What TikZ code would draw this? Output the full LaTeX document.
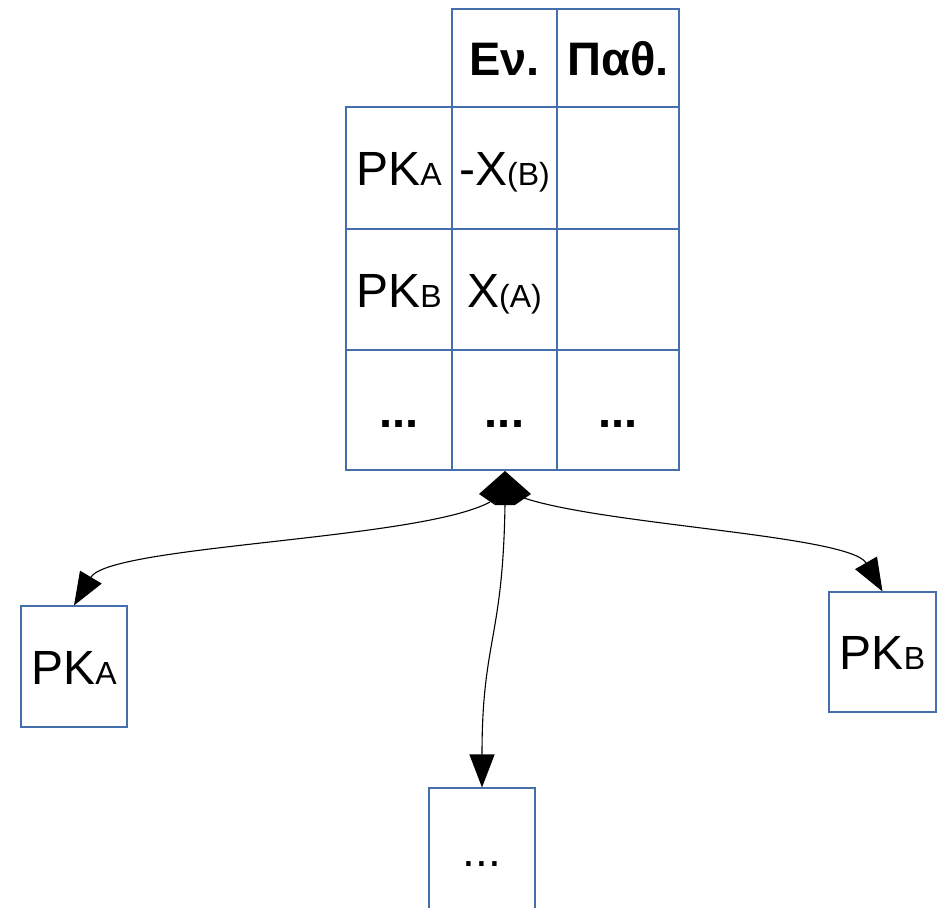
\documentclass[tikz,border=0pt]{standalone}
\usepackage{fontspec}
\setmainfont{Liberation Sans}
\usetikzlibrary{arrows.meta}
\definecolor{gridblue}{RGB}{68,110,172}
\newcommand\smallpart[1]{{\fontsize{32}{32}\selectfont #1}}
\tikzset{
  cellbox/.style 2 args={draw=gridblue, line width=1.1pt, inner sep=0pt,
    minimum width=#1, minimum height=#2, text height=35pt, text depth=0pt,
    font=\fontsize{48}{52}\selectfont},
  boldcell/.style={font=\fontsize{47}{50}\selectfont\bfseries},
  link/.style={line width=1.1pt, -{Triangle[length=33pt,width=25pt]}},
}
\begin{document}
\begin{tikzpicture}[x=1pt, y=-1pt]
\useasboundingbox (0,0) rectangle (943,908);
\clip (0,0) rectangle (943,908);

% header row
\node[cellbox={105pt}{98pt}, boldcell] (hEn) at (504.5,58) {Εν.};
\node[cellbox={122pt}{98pt}, boldcell] (hPa) at (618,58) {Παθ.};
% first row
\node[cellbox={106pt}{122pt}] (r1a) at (399,168) {PK\smallpart{A}};
\node[cellbox={105pt}{122pt}] (r1b) at (504.5,168) {-X\smallpart{(B)}};
\node[cellbox={122pt}{122pt}] (r1c) at (618,168) {};
% second row
\node[cellbox={106pt}{121pt}] (r2a) at (399,289.5) {PK\smallpart{B}};
\node[cellbox={105pt}{121pt}] (r2b) at (504.5,289.5) {X\smallpart{(A)}};
\node[cellbox={122pt}{121pt}] (r2c) at (618,289.5) {};
% third row
\node[cellbox={106pt}{120pt}, boldcell] (r3a) at (399,410) {...};
\node[cellbox={105pt}{120pt}, boldcell] (r3b) at (504.5,410) {...};
\node[cellbox={122pt}{120pt}, boldcell] (r3c) at (618,410) {...};

% target boxes
\node[cellbox={106pt}{121pt}] (pka) at (74,666.5) {PK\smallpart{A}};
\node[cellbox={107pt}{120pt}] (pkb) at (882.5,652) {PK\smallpart{B}};
\node[cellbox={106pt}{122pt}, font=\fontsize{46}{50}\selectfont] (more) at (482,849) {...};

% diamond at the foot of the table
\fill (505,471) -- (531,494) -- (515,505) -- (495,505) -- (479,494) -- cycle;
\coordinate (hubL) at (490,502);
\coordinate (hubC) at (505,504);
\coordinate (hubR) at (521,497);

% connectors
\draw[link] (hubL) .. controls (420,540) and (110,545) .. (pka.north);
\draw[link] (hubC) .. controls (503,640) and (482,640) .. (more.north);
\draw[link] (hubR) .. controls (600,525) and (850,535) .. (pkb.north);
\end{tikzpicture}
\end{document}
